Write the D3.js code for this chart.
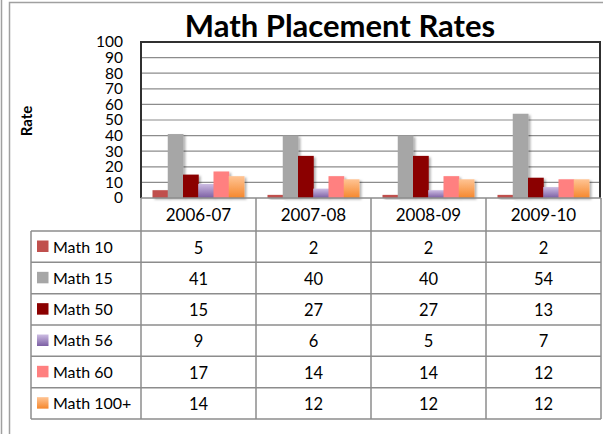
<!DOCTYPE html>
<html>
<head>
<meta charset="utf-8">
<script src="https://cdn.jsdelivr.net/npm/d3@7"></script>
<style>
  body { margin: 0; background: #fff; }
  svg { display: block; font-family: Lato, "Open Sans", sans-serif; }
</style>
</head>
<body>
<div class="chart"></div>
<script>
// data
var categories = ["2006-07", "2007-08", "2008-09", "2009-10"];
var seriesNames = ["Math 10", "Math 15", "Math 50", "Math 56", "Math 60", "Math 100+"];
var math10 = [5, 2, 2, 2];
var math15 = [41, 40, 40, 54];
var math50 = [15, 27, 27, 13];
var math56 = [9, 6, 5, 7];
var math60 = [17, 14, 14, 12];
var math100 = [14, 12, 12, 12];
var yTicks = [0, 10, 20, 30, 40, 50, 60, 70, 80, 90, 100];

var values = [math10, math15, math50, math56, math60, math100];
var fills = ["#c0504d", "#a6a6a6", "#8b0000", "url(#gPurple)", "#ff8080", "url(#gOrange)"];

var width = 603, height = 434;

var svg = d3.select(".chart").append("svg")
    .attr("width", width)
    .attr("height", height);

var defs = svg.append("defs");
function grad(id, top, bottom) {
  var g = defs.append("linearGradient").attr("id", id)
      .attr("x1", 0).attr("y1", 0).attr("x2", 0).attr("y2", 1);
  g.append("stop").attr("offset", "0%").attr("stop-color", top);
  g.append("stop").attr("offset", "100%").attr("stop-color", bottom);
}
grad("gPurple", "#cdbde3", "#7b5ea3");
grad("gOrange", "#ffc494", "#f5872c");

var shadow = defs.append("filter").attr("id", "shadow")
    .attr("x", "-20%").attr("y", "-20%").attr("width", "160%").attr("height", "160%");
shadow.append("feDropShadow").attr("dx", 2).attr("dy", 1.5)
    .attr("stdDeviation", 1.2).attr("flood-color", "#000").attr("flood-opacity", 0.3);

svg.append("rect").attr("width", width).attr("height", height).attr("fill", "#fff");

// frame lines
svg.append("line").attr("x1", 1.5).attr("x2", 1.5).attr("y1", 0).attr("y2", height)
    .attr("stroke", "#a0a0a0").attr("stroke-width", 1.5);
svg.append("rect").attr("x", 9.5).attr("y", 2.5).attr("width", 700).attr("height", 500)
    .attr("fill", "none").attr("stroke", "#a0a0a0").attr("stroke-width", 1.5);

// scales
var plot = {left: 141, right: 600, top: 42, bottom: 198};
var x = d3.scaleBand().domain(categories).range([plot.left, 601]);
var xs = d3.scaleBand().domain(seriesNames).range([11.5, 103]);
var y = d3.scaleLinear().domain([0, 100]).range([plot.bottom, plot.top]);

// title
svg.append("text")
    .attr("x", 340).attr("y", 37)
    .attr("text-anchor", "middle")
    .attr("font-size", 31).attr("font-weight", "bold")
    .text("Math Placement Rates");

// gridlines
svg.append("g").selectAll("line")
    .data(yTicks.slice(1))
    .enter().append("line")
    .attr("x1", plot.left).attr("x2", plot.right)
    .attr("y1", function(d) { return y(d); })
    .attr("y2", function(d) { return y(d); })
    .attr("stroke", "#8c8c8c").attr("stroke-width", 1.2);

// y axis labels
var yAxis = svg.append("g")
    .attr("transform", "translate(" + (plot.left - 4) + ",0)")
    .call(d3.axisLeft(y).tickValues(yTicks).tickSize(0).tickPadding(14));
yAxis.select(".domain").remove();
yAxis.selectAll("text")
    .attr("font-family", "Lato, sans-serif")
    .attr("font-size", 15.5).attr("fill", "#000");

svg.append("text")
    .attr("transform", "translate(32,121) rotate(-90)")
    .attr("text-anchor", "middle")
    .attr("font-size", 15).attr("font-weight", "bold")
    .text("Rate");

// bars
var groups = svg.append("g").selectAll("g")
    .data(categories)
    .enter().append("g")
    .attr("transform", function(d) { return "translate(" + x(d) + ",0)"; });

groups.selectAll("rect")
    .data(function(c, i) {
      return seriesNames.map(function(s, k) { return {s: s, v: values[k][i], k: k}; });
    })
    .enter().append("rect")
    .attr("x", function(d) { return xs(d.s); })
    .attr("width", xs.bandwidth() + 0.5)
    .attr("y", function(d) { return y(d.v); })
    .attr("height", function(d) { return y(0) - y(d.v); })
    .attr("fill", function(d) { return fills[d.k]; })
    .attr("filter", "url(#shadow)");

// plot border
svg.append("path")
    .attr("d", "M" + plot.left + "," + plot.bottom + "V" + plot.top + "H" + plot.right + "V" + plot.bottom)
    .attr("fill", "none").attr("stroke", "#303030").attr("stroke-width", 2);
svg.append("line")
    .attr("x1", plot.left).attr("x2", 601).attr("y1", plot.bottom).attr("y2", plot.bottom)
    .attr("stroke", "#8c8c8c").attr("stroke-width", 1.5);

// data table
var rowTop = 231, rowH = 31.33, tableLeft = 31, tableRight = 601;
var lineColor = "#8c8c8c";
var table = svg.append("g");

// header vertical lines
table.selectAll(".hv")
    .data(categories.concat(["end"]))
    .enter().append("line")
    .attr("x1", function(d, i) { return plot.left + i * x.bandwidth(); })
    .attr("x2", function(d, i) { return plot.left + i * x.bandwidth(); })
    .attr("y1", plot.bottom).attr("y2", rowTop + rowH * seriesNames.length)
    .attr("stroke", lineColor).attr("stroke-width", 1.5);

table.append("line")
    .attr("x1", tableLeft).attr("x2", tableLeft)
    .attr("y1", rowTop).attr("y2", rowTop + rowH * seriesNames.length)
    .attr("stroke", lineColor).attr("stroke-width", 1.5);

table.selectAll(".hr")
    .data(d3.range(seriesNames.length + 1))
    .enter().append("line")
    .attr("x1", tableLeft).attr("x2", tableRight)
    .attr("y1", function(d) { return rowTop + d * rowH; })
    .attr("y2", function(d) { return rowTop + d * rowH; })
    .attr("stroke", lineColor).attr("stroke-width", 1.5);

// header labels
table.selectAll(".hl")
    .data(categories)
    .enter().append("text")
    .attr("x", function(d) { return x(d) + x.bandwidth() / 2; })
    .attr("y", 221)
    .attr("text-anchor", "middle")
    .attr("font-size", 17)
    .text(function(d) { return d; });

// rows
var rows = table.selectAll(".row")
    .data(seriesNames)
    .enter().append("g")
    .attr("transform", function(d, i) { return "translate(0," + (rowTop + i * rowH) + ")"; });

rows.append("rect")
    .attr("x", 37).attr("y", 9.5).attr("width", 11.5).attr("height", 11.5)
    .attr("fill", function(d, i) { return fills[i]; });

rows.append("text")
    .attr("x", 53).attr("y", 21.5)
    .attr("font-size", 16)
    .text(function(d) { return d; });

rows.selectAll(".v")
    .data(function(d, i) { return values[i]; })
    .enter().append("text")
    .attr("x", function(d, j) { return x(categories[j]) + x.bandwidth() / 2; })
    .attr("y", 22.5)
    .attr("text-anchor", "middle")
    .attr("font-size", 16.5)
    .text(function(d) { return d; });
</script>
</body>
</html>
